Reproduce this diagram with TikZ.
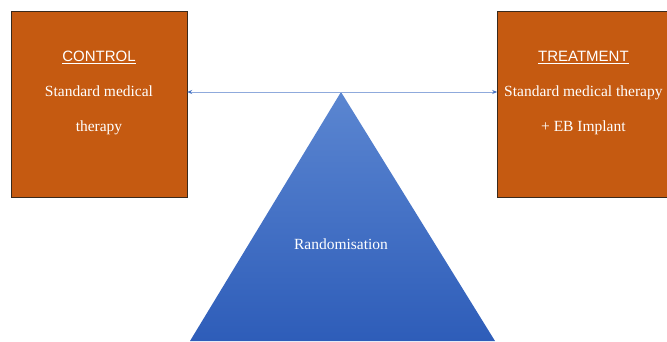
\documentclass[tikz,border=0pt]{standalone}
\usepackage{fontspec}
\setmainfont{Liberation Serif}
\setsansfont{Liberation Sans}
\usepackage{xcolor}
\definecolor{armorange}{HTML}{C55A11}
\definecolor{armedge}{HTML}{3A2A1C}
\definecolor{linkblue}{HTML}{8FAADC}
\definecolor{linktip}{HTML}{4472C4}
\definecolor{tritop}{HTML}{5B86D1}
\definecolor{tribot}{HTML}{2E5DB9}
\usepackage{tikz}
\usetikzlibrary{arrows.meta,positioning,calc}

\begin{document}
\begin{tikzpicture}[x=1pt,y=1pt,font=\fontsize{15.5}{35}\selectfont,
  arm/.style={draw=armedge,thin,fill=armorange,minimum width=176pt,minimum height=186pt,inner sep=0pt},
  armtext/.style={text=white,align=center,anchor=north,inner sep=0pt},
  link/.style={{Stealth[length=5pt,width=4pt,color=linktip]}-{Stealth[length=5pt,width=4pt,color=linktip]},linkblue,line width=1pt}]
\clip (0,0) rectangle (667,341);
% control arm
\node[arm] (control) at (99,237) {};
\node[armtext] (controltxt) at ($(control.north)+(0,-40)$)
  {{\fontsize{15}{35}\sffamily\underline{CONTROL}}\\Standard medical\\therapy};
% treatment arm
\node[arm,right=310pt of control] (treatment) {};
\node[armtext] (treatmenttxt) at ($(treatment.north)+(-2,-40)$)
  {{\fontsize{15}{35}\sffamily\underline{TREATMENT}}\\Standard medical therapy\\+ EB Implant};
% randomisation triangle
\coordinate (apex) at (341,249);
\coordinate (baseL) at (190,0);
\coordinate (baseR) at (495,0);
\shade[top color=tritop,bottom color=tribot] (apex) -- (baseR) -- (baseL) -- cycle;
\node[text=white] (rand) at (341,97) {Randomisation};
% link between arms
\draw[link] (control.east |- apex) -- (treatment.west |- apex);
\end{tikzpicture}
\end{document}
